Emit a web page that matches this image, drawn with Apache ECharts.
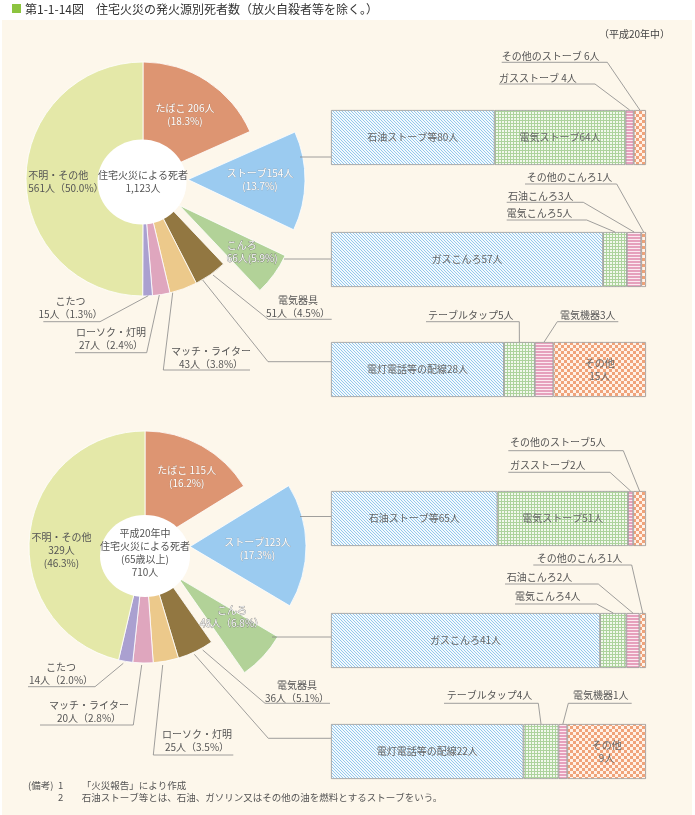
<!DOCTYPE html>
<html><head><meta charset="utf-8">
<script src="https://cdn.jsdelivr.net/npm/echarts@6/dist/echarts.min.js"></script>
<style>html,body{margin:0;padding:0;background:#fff}#c{width:695px;height:815px}</style>
</head><body><div id="c"></div>
<script>
// ---------------- DATA ----------------
const pieTopNames = ['たばこ','ストーブ','こんろ','電気器具','マッチ・ライター','ローソク・灯明','こたつ','不明・その他'];
const pieTopValues = [206,154,66,51,43,27,15,561];
const pieBottomNames = ['たばこ','ストーブ','こんろ','電気器具','ローソク・灯明','マッチ・ライター','こたつ','不明・その他'];
const pieBottomValues = [115,123,48,36,25,20,14,329];

const stoveNames = ['石油ストーブ等','電気ストーブ','ガスストーブ','その他のストーブ'];
const stoveTopValues = [80,64,4,6];
const stoveBottomValues = [65,51,2,5];
const cookerNames = ['ガスこんろ','電気こんろ','石油こんろ','その他のこんろ'];
const cookerTopValues = [57,5,3,1];
const cookerBottomValues = [41,4,2,1];
const electNames = ['電灯電話等の配線','テーブルタップ','電気機器','その他'];
const electTopValues = [28,5,3,15];
const electBottomValues = [22,4,1,9];

const titleText = '第1-1-14図　住宅火災の発火源別死者数（放火自殺者等を除く。）';
const yearText = '（平成20年中）';
const centerTopText = ['住宅火災による死者'];
const centerBottomText = ['平成20年中','住宅火災による死者','(65歳以上)'];
const notesHead = '(備考)';
const notes = ['「火災報告」により作成','石油ストーブ等とは、石油、ガソリン又はその他の油を燃料とするストーブをいう。'];

// ---------------- STYLE ----------------
const FONT = '"Noto Sans CJK JP","Noto Sans",sans-serif';
const sliceColors = ['#dd9572','#9bcbf0','#b2d298','#927741','#ecc98b','#dfa6be','#aaa0d0','#e4e8a8'];
const BAR_L = 331, BAR_W = 315, BAR_H = 55;

function pattern(w,h,draw){const c=document.createElement('canvas');c.width=w;c.height=h;const g=c.getContext('2d');draw(g);return {image:c,repeat:'repeat'};}
const patBlue = pattern(3,3,g=>{g.fillStyle='#f3f9fd';g.fillRect(0,0,3,3);g.fillStyle='#93c8ec';for(let i=0;i<3;i++)g.fillRect(i,i,1,1);});
const patGreen = pattern(3,3,g=>{g.fillStyle='#f2f8ed';g.fillRect(0,0,3,3);g.fillStyle='#add39d';g.fillRect(0,0,3,1);g.fillRect(0,0,1,3);});
const patPink = pattern(3,3,g=>{g.fillStyle='#e6a0bc';g.fillRect(0,0,3,3);g.fillStyle='#fbe9f0';g.fillRect(0,2,3,1);});
const patOrange = pattern(6,6,g=>{g.fillStyle='#fff2e8';g.fillRect(0,0,6,6);g.fillStyle='#f0a37a';g.fillRect(0,0,3,3);g.fillRect(3,3,3,3);});
const patterns = [patBlue,patGreen,patPink,patOrange];

const sum = a => a.reduce((s,v)=>s+v,0);
const pct = (v,t) => (v/t*100).toFixed(1);
const fmtN = n => n.toLocaleString('en-US');
const topTotal = sum(pieTopValues), bottomTotal = sum(pieBottomValues);

// ---------------- GRAPHICS helpers ----------------
const G = [];
function T(x,y,text,o={}){
  const st = {x,y,text,fill:o.fill||'#555',font:`${o.size||10}px ${FONT}`,align:o.align||'left',verticalAlign:'middle',lineHeight:o.lh||13};
  if(o.stroke){st.stroke=o.stroke;st.lineWidth=o.lw||0.6;}
  G.push({type:'text',z:100,silent:true,style:st});
}
function L(points){G.push({type:'polyline',z:100,silent:true,shape:{points},style:{stroke:'#888',lineWidth:0.8,fill:null}});}

// background panel + title
G.push({type:'rect',z:0,silent:true,shape:{x:2,y:20,width:690,height:795},style:{fill:'#fdf7eb'}});
G.push({type:'rect',z:100,silent:true,shape:{x:12,y:4,width:9,height:9},style:{fill:'#8cc43f'}});
T(25,9,titleText,{size:12,fill:'#333'});
T(670,34,yearText,{size:10,align:'right',fill:'#444'});

// center holes
G.push({type:'ellipse',z:90,silent:true,shape:{cx:142,cy:182,rx:44.5,ry:42.5},style:{fill:'#fff'}});
G.push({type:'ellipse',z:90,silent:true,shape:{cx:145,cy:556,rx:45,ry:41},style:{fill:'#fff'}});

// ---- top pie labels ----
const W = {fill:'#fff',stroke:'rgba(140,110,90,0.45)'};
const WK = {fill:'#fbfbfb',stroke:'rgba(105,105,105,0.75)',lw:0.8};
const tv = pieTopValues, bv = pieBottomValues;
T(143,181.7,centerTopText.join('\n')+'\n'+fmtN(topTotal)+'人',{align:'center'});
T(185,114.7,`${pieTopNames[0]} ${tv[0]}人\n(${pct(tv[0],topTotal)}%)`,Object.assign({align:'center'},W));
T(260,179.7,`${pieTopNames[1]}${tv[1]}人\n(${pct(tv[1],topTotal)}%)`,Object.assign({align:'center'},W));
T(226.7,251.3,`${pieTopNames[2]}\n${tv[2]}人(${pct(tv[2],topTotal)}%)`,Object.assign({align:'left'},WK));
T(28.3,181.7,`${pieTopNames[7]}\n${tv[7]}人（${pct(tv[7],topTotal)}%）`,{align:'left'});
T(298,306.7,`${pieTopNames[3]}\n${tv[3]}人（${pct(tv[3],topTotal)}%）`,{align:'center'});
T(211,357.3,`${pieTopNames[4]}\n${tv[4]}人（${pct(tv[4],topTotal)}%）`,{align:'center'});
T(111,338.3,`${pieTopNames[5]}\n${tv[5]}人（${pct(tv[5],topTotal)}%）`,{align:'center'});
T(70.5,308,`${pieTopNames[6]}\n${tv[6]}人（${pct(tv[6],topTotal)}%）`,{align:'center'});
L([[43.3,321.7],[100,321.7],[148.3,295.7]]);
L([[75,352.7],[146.7,352.7],[159.3,295]]);
L([[250,370],[163.3,370],[172.7,292.7]]);
L([[331.7,319.3],[268.3,319.3],[213,275]]);
L([[331,361.7],[268,361.7],[202.7,280]]);
L([[300,157],[331,157]]);
L([[284,259],[331,259]]);

// ---- bottom pie labels ----
T(145,552.5,centerBottomText.join('\n')+'\n'+fmtN(bottomTotal)+'人',{align:'center'});
T(186.7,476.5,`${pieBottomNames[0]} ${bv[0]}人\n(${pct(bv[0],bottomTotal)}%)`,Object.assign({align:'center'},W));
T(257.5,548.3,`${pieBottomNames[1]}${bv[1]}人\n(${pct(bv[1],bottomTotal)}%)`,Object.assign({align:'center'},W));
T(232,617,`${pieBottomNames[2]}\n${bv[2]}人（${pct(bv[2],bottomTotal)}%）`,Object.assign({align:'center'},WK));
T(61.5,550.5,`${pieBottomNames[7]}\n${bv[7]}人\n(${pct(bv[7],bottomTotal)}%)`,{align:'center'});
T(297,691.7,`${pieBottomNames[3]}\n${bv[3]}人（${pct(bv[3],bottomTotal)}%）`,{align:'center'});
T(197,740.8,`${pieBottomNames[4]}\n${bv[4]}人（${pct(bv[4],bottomTotal)}%）`,{align:'center'});
T(89,711.3,`${pieBottomNames[5]}\n${bv[5]}人（${pct(bv[5],bottomTotal)}%）`,{align:'center'});
T(61,673.8,`${pieBottomNames[6]}\n${bv[6]}人（${pct(bv[6],bottomTotal)}%）`,{align:'center'});
L([[28,686.7],[95,686.7],[123.3,663.3]]);
L([[40,725],[133.3,725],[141.7,665]]);
L([[233.3,755],[153.3,755],[162.7,665]]);
L([[330,703.3],[265,703.3],[202.7,650]]);
L([[331,738.3],[268.3,738.3],[194.3,654.3]]);
L([[300,516.5],[331,516.5]]);
L([[272,637],[331,637]]);

// ---- bars ----
const barGroups = [
  {top:110,names:stoveNames,values:stoveTopValues,inside:[0,1],
   call:[{seg:3,x:501.7,y:56,sep:' ',u:[501.7,607.3],uy:62.3,end:'r'},{seg:2,x:499,y:78,sep:' ',u:[499,595],uy:84,end:'r'}]},
  {top:232,names:cookerNames,values:cookerTopValues,inside:[0],
   call:[{seg:3,x:526.7,y:177.3,u:[525,616.7],uy:184,end:'r'},{seg:2,x:508,y:196.7,u:[506.7,583.3],uy:202.3,end:'r'},{seg:1,x:506.7,y:213.3,u:[506.7,586.7],uy:220,end:'r'}]},
  {top:342,names:electNames,values:electTopValues,inside:[0,3],
   call:[{seg:1,x:428,y:315,u:[426,519.3],uy:321.7,end:'r'},{seg:2,x:560,y:315,u:[557.3,618.3],uy:321.7,end:'l'}]},
  {top:491,names:stoveNames,values:stoveBottomValues,inside:[0,1],
   call:[{seg:3,x:510,y:442.7,u:[508.3,623.3],uy:450.7,end:'r'},{seg:2,x:510,y:465,u:[508.3,610],uy:472.3,end:'r'}]},
  {top:613,names:cookerNames,values:cookerBottomValues,inside:[0],
   call:[{seg:3,x:536.7,y:558.3,u:[533.3,631.7],uy:565,end:'r'},{seg:2,x:506.7,y:577.3,u:[505,598.3],uy:584,end:'r'},{seg:1,x:515,y:596.7,u:[515,596.7],uy:604,end:'r'}]},
  {top:724,names:electNames,values:electBottomValues,inside:[0,3],
   call:[{seg:1,x:446.7,y:695,u:[444,538.3],uy:703.3,end:'r'},{seg:2,x:573,y:695,u:[568.3,631.7],uy:703.3,end:'l'}]}
];

const grids=[],xAxes=[],yAxes=[],series=[];
barGroups.forEach((bg,gi)=>{
  const tot=sum(bg.values);
  grids.push({left:BAR_L,top:bg.top,width:BAR_W,height:BAR_H});
  xAxes.push({type:'value',gridIndex:gi,min:0,max:tot,show:false});
  yAxes.push({type:'category',gridIndex:gi,data:['a'],show:false});
  bg.values.forEach((v,si)=>{
    const showL = bg.inside.includes(si);
    series.push({type:'bar',xAxisIndex:gi,yAxisIndex:gi,stack:'s'+gi,barWidth:'100%',silent:true,animation:false,
      data:[v],itemStyle:{color:patterns[si],borderColor:'#999',borderWidth:0.8},
      label:{show:showL,position:'inside',color:'#666',fontSize:10,fontFamily:FONT,lineHeight:13,
        formatter:()=> (si===3 ? `${bg.names[si]}\n${v}人` : `${bg.names[si]}${v}人`)}});
  });
  bg.call.forEach(c=>{
    const before=sum(bg.values.slice(0,c.seg));
    const sx=BAR_L+BAR_W*(before+bg.values[c.seg]/2)/tot;
    T(c.x,c.y,`${bg.names[c.seg]}${c.sep||''}${bg.values[c.seg]}人`);
    if(c.end==='r') L([[c.u[0],c.uy],[c.u[1],c.uy],[sx,bg.top]]);
    else L([[c.u[1],c.uy],[c.u[0],c.uy],[sx,bg.top]]);
  });
});

// notes
T(28,785,notesHead,{size:9.5});
T(58,785,'1',{size:9.5}); T(81.7,785,notes[0],{size:9.5});
T(58,797.5,'2',{size:9.5}); T(81.7,797.5,notes[1],{size:9.5});

function pieSeries(names,values,center,r){
  return {type:'pie',center,radius:[0,r],startAngle:90,clockwise:true,selectedMode:'multiple',selectedOffset:45,
    animation:false,silent:true,z:2,label:{show:false},labelLine:{show:false},emphasis:{disabled:true},
    itemStyle:{borderColor:'#fff',borderWidth:0.8},select:{itemStyle:{borderColor:'#fff',borderWidth:0.8}},
    data:names.map((n,i)=>({name:n,value:values[i],selected:(i===1||i===2),itemStyle:{color:sliceColors[i]}}))};
}
series.push(pieSeries(pieTopNames,pieTopValues,[143,179],117));
series.push(pieSeries(pieBottomNames,pieBottomValues,[145,547],116));

const chart = echarts.init(document.getElementById('c'),null,{renderer:'canvas'});
chart.setOption({backgroundColor:'#fff',animation:false,grid:grids,xAxis:xAxes,yAxis:yAxes,series,graphic:{elements:G}});
</script></body></html>
